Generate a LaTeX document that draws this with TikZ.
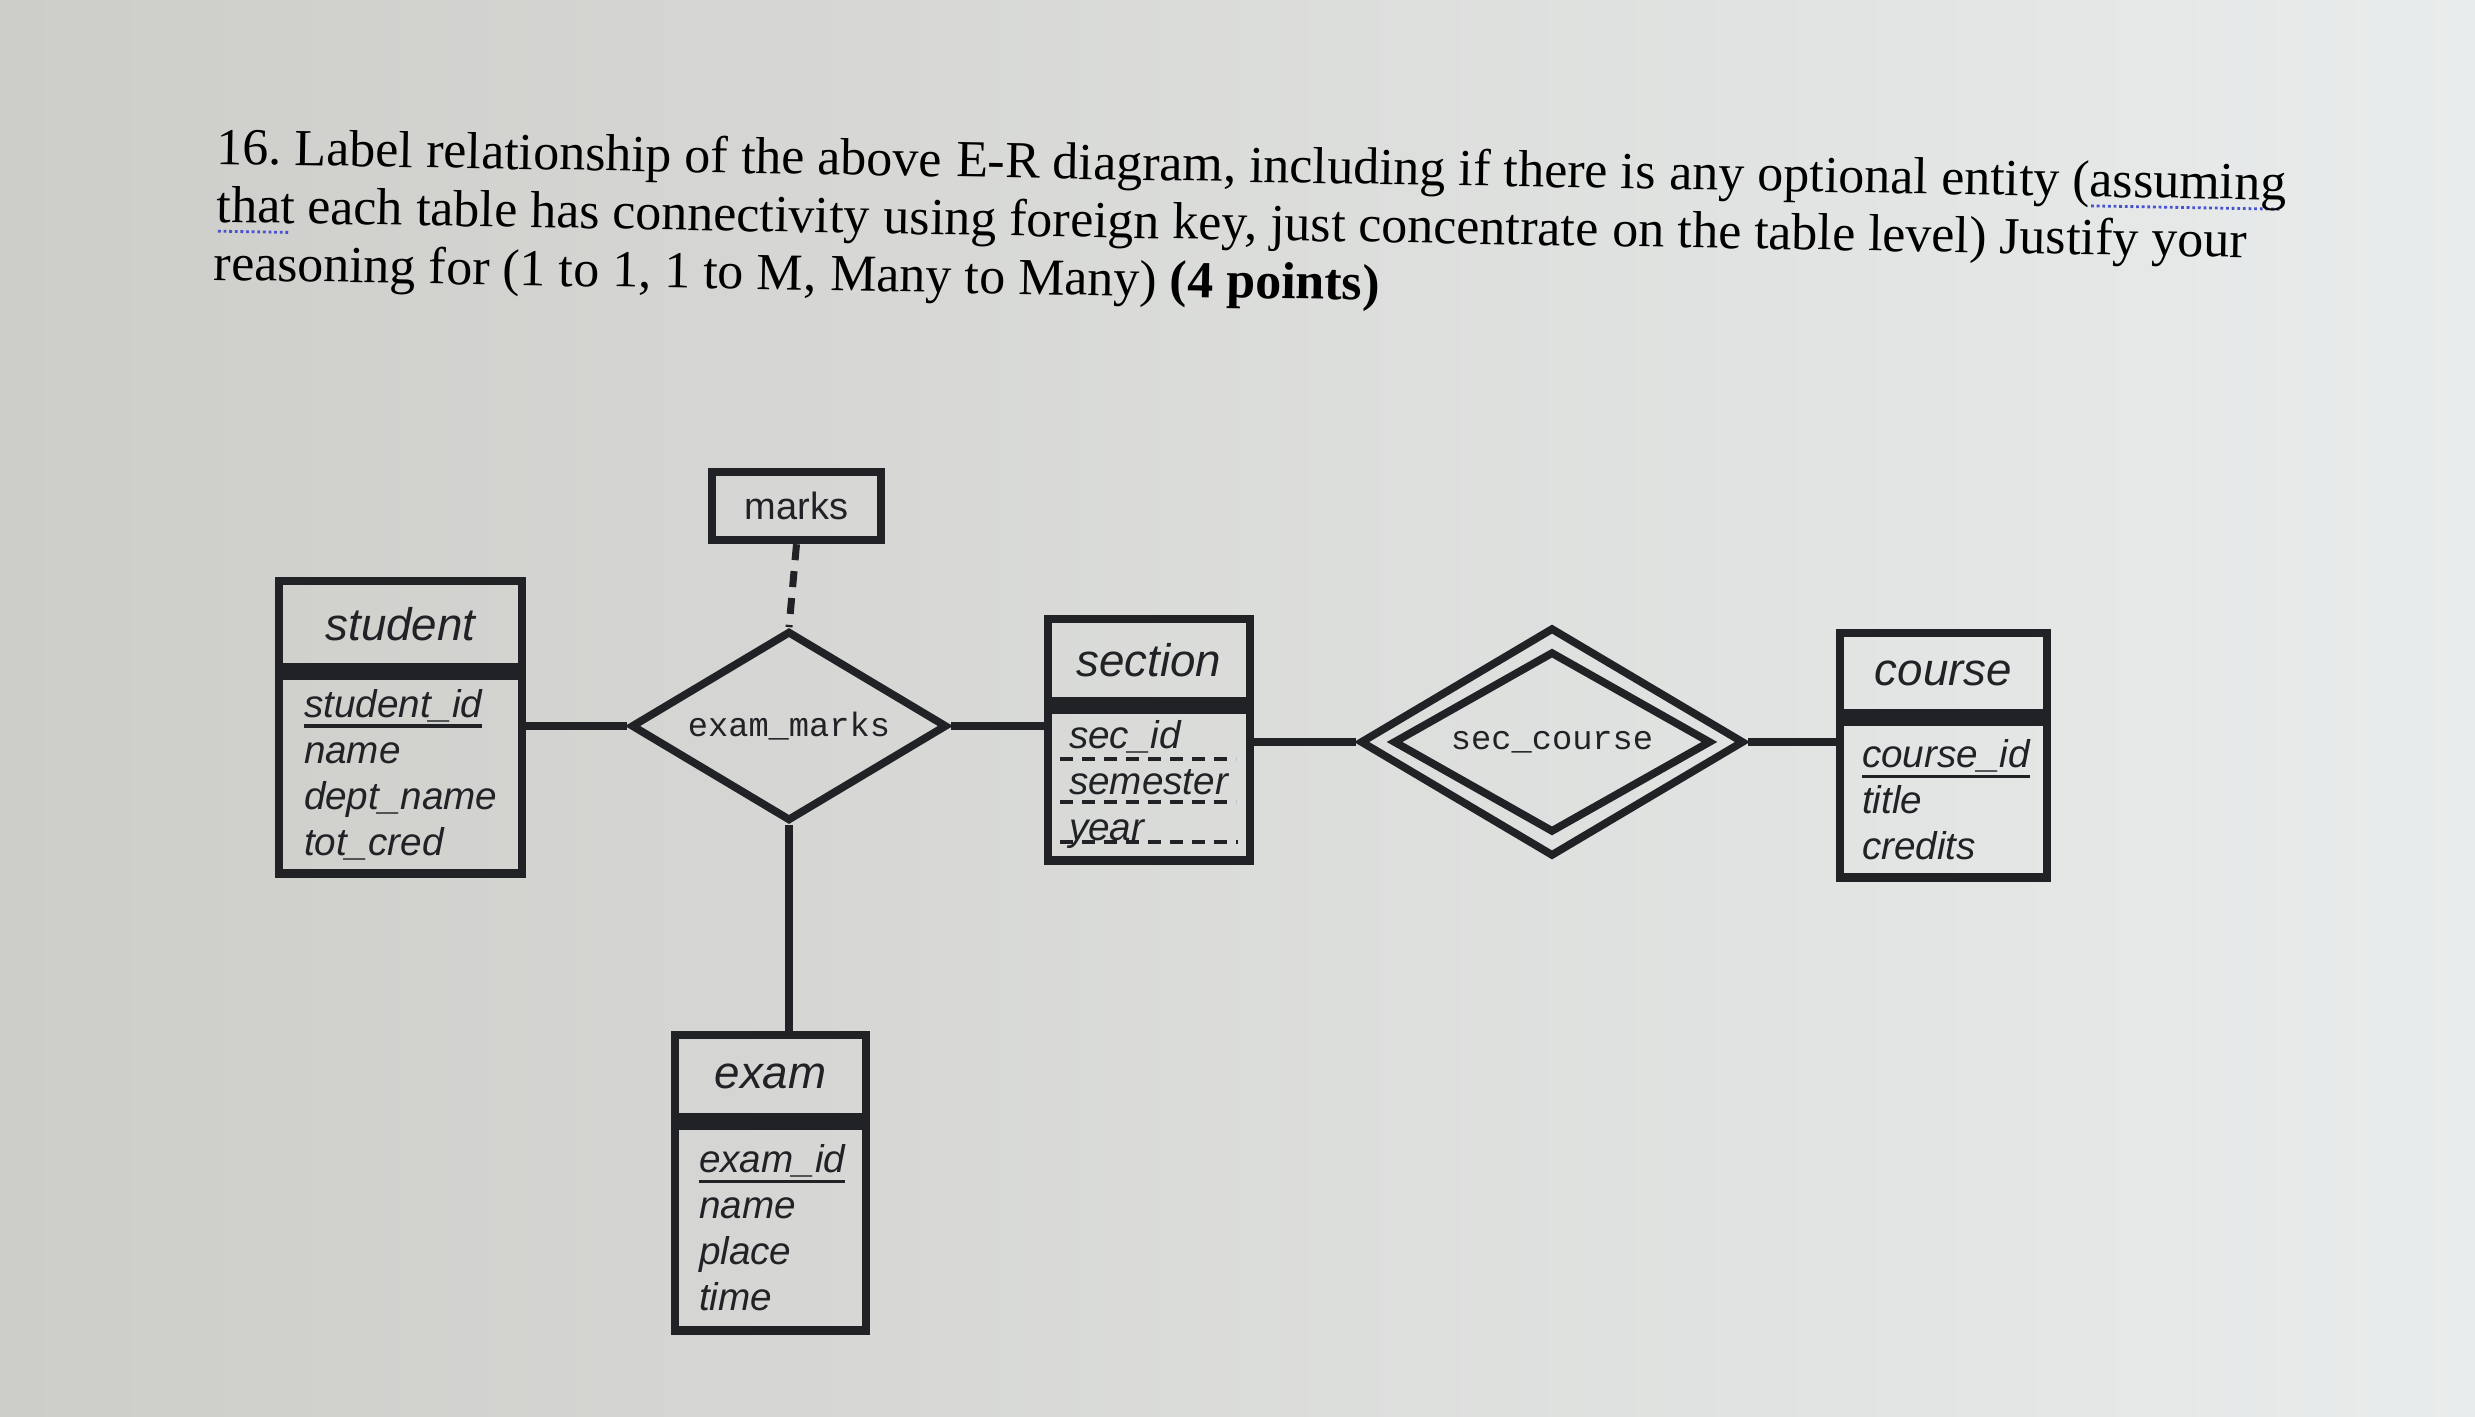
\documentclass[tikz,border=0pt]{standalone}
\usepackage{fontspec}
\setmainfont{Liberation Serif}
\setsansfont{Liberation Sans}
\setmonofont{Liberation Mono}
\usetikzlibrary{shapes.geometric}

\definecolor{paperleft}{RGB}{205,205,201}
\definecolor{papermid}{RGB}{224,225,222}
\definecolor{paperright}{RGB}{233,236,236}
\definecolor{ink}{RGB}{32,34,38}
\definecolor{spellblue}{RGB}{72,84,205}

% primary key: text with a rule under it
\newcommand{\keyname}[1]{\setbox0=\hbox{#1}\rlap{\raisebox{-3pt}{\rule{\wd0}{0.9pt}}}\box0\relax}
% dotted spell-check mark under a word
\newcommand{\spellmark}[1]{\setbox0=\hbox{#1}\rlap{\raisebox{-3pt}{\textcolor{spellblue}{\hbox to \wd0{\leaders\hbox to 1.6pt{\hss\rule{0.8pt}{0.8pt}\hss}\hfil}}}}\box0\relax}

\tikzset{
  title/.style={anchor=base west, rotate=-1, inner sep=0pt, text={RGB:black,1},
    font=\frenchspacing\fontsize{14.8}{17}\selectfont},
  entity/.style={draw=ink, line width=2.4pt, inner sep=0pt, text=ink,
    font=\sffamily\itshape\fontsize{13}{15}\selectfont},
  attrs/.style={draw=ink, line width=2.4pt, anchor=north, align=left, inner ysep=0pt,
    text=ink, font=\sffamily\itshape\fontsize{11}{13.1}\selectfont},
  relation/.style={diamond, draw=ink, line width=2.2pt, inner sep=0pt, text=ink,
    font=\ttfamily\fontsize{9.6}{11}\selectfont},
  link/.style={draw=ink, line width=2pt},
  partialkey/.style={draw=ink, line width=0.9pt, dash pattern=on 1.3mm off 0.9mm},
}

\begin{document}
\begin{tikzpicture}[x=0.1mm, y=-0.1mm]
  \useasboundingbox (0,0) rectangle (2475,1416);
  \fill[left color=paperleft, middle color=papermid, right color=paperright] (0,0) rectangle (2475,1416);

  % question text, one line in pieces
  \node[title] (title-1a) at (216,164) {16. Label relationship of the above};
  \node[title] (title-1b) at (title-1a.base east) {\ E-R diagram, including if there is};
  \node[title] (title-1c) at (title-1b.base east) {\ any optional entity (\spellmark{assuming}};
  \node[title] (title-2a) at (216,222) {\spellmark{that} each table has connectivity};
  \node[title] (title-2b) at (title-2a.base east) {\ using foreign key, just concentrate};
  \node[title] (title-2c) at (title-2b.base east) {\ on the table level) Justify your};
  \node[title] (title-3a) at (213,280) {reasoning for (1 to 1, 1 to M,};
  \node[title] (title-3b) at (title-3a.base east) {\ Many to Many) \textbf{(4 points)}};

  % entities
  \node[entity, minimum width=24.3mm, minimum height=8.6mm] (student) at (400.5,624) {student};
  \node[attrs, inner xsep=2.5mm, text width=19.3mm, minimum height=19.8mm] (student-attr) at (student.south)
    {\keyname{student\_id}\\name\\dept\_name\\tot\_cred};

  \node[entity, minimum width=20.2mm, minimum height=8.2mm] (section) at (1149,660) {section};
  \node[attrs, inner xsep=2.1mm, text width=16mm, minimum height=15.1mm] (section-attr) at (section.south)
    {sec\_id\\semester\\year};
  \draw[partialkey] (1060,759) -- (1236,759);
  \draw[partialkey] (1060,802) -- (1236,802);
  \draw[partialkey] (1060,842) -- (1238,842);

  \node[entity, minimum width=20.7mm, minimum height=8mm] (course) at (1943.5,673) {course};
  \node[attrs, inner xsep=2.2mm, text width=16.3mm, minimum height=15.6mm] (course-attr) at (course.south)
    {\keyname{course\_id}\\title\\credits};

  \node[entity, minimum width=19.1mm, minimum height=8.2mm] (exam) at (770.5,1076) {exam};
  \node[attrs, inner xsep=2.4mm, text width=14.3mm, minimum height=20.5mm] (exam-attr) at (exam.south)
    {\keyname{exam\_id}\\name\\place\\time};

  \node[entity, font=\sffamily\fontsize{10.8}{13}\selectfont, minimum width=16.9mm, minimum height=6.8mm] (marks) at (796.5,506) {marks};

  % relationships
  \node[relation, aspect=1.66, minimum width=31.6mm, minimum height=19mm] (exam-marks) at (789,726) {exam\_marks};
  \node[relation, aspect=1.68, minimum width=38.4mm, minimum height=22.9mm] (sec-course) at (1552,742) {sec\_course};
  \node[relation, aspect=1.76, minimum width=31.8mm, minimum height=18.1mm] (sec-course-inner) at (sec-course) {};

  % connectors
  \draw[link] (exam-marks.west) -- (exam-marks.west -| student-attr.east);
  \draw[link] (exam-marks.east) -- (exam-marks.east -| section-attr.west);
  \draw[link] (exam-marks.south) -- (exam-marks.south |- exam.north);
  \draw[link, dash pattern=on 1.6mm off 1.1mm] (marks.south) -- (exam-marks.north);
  \draw[link] (sec-course.west) -- (sec-course.west -| section-attr.east);
  \draw[link] (sec-course.east) -- (sec-course.east -| course-attr.west);
\end{tikzpicture}
\end{document}
